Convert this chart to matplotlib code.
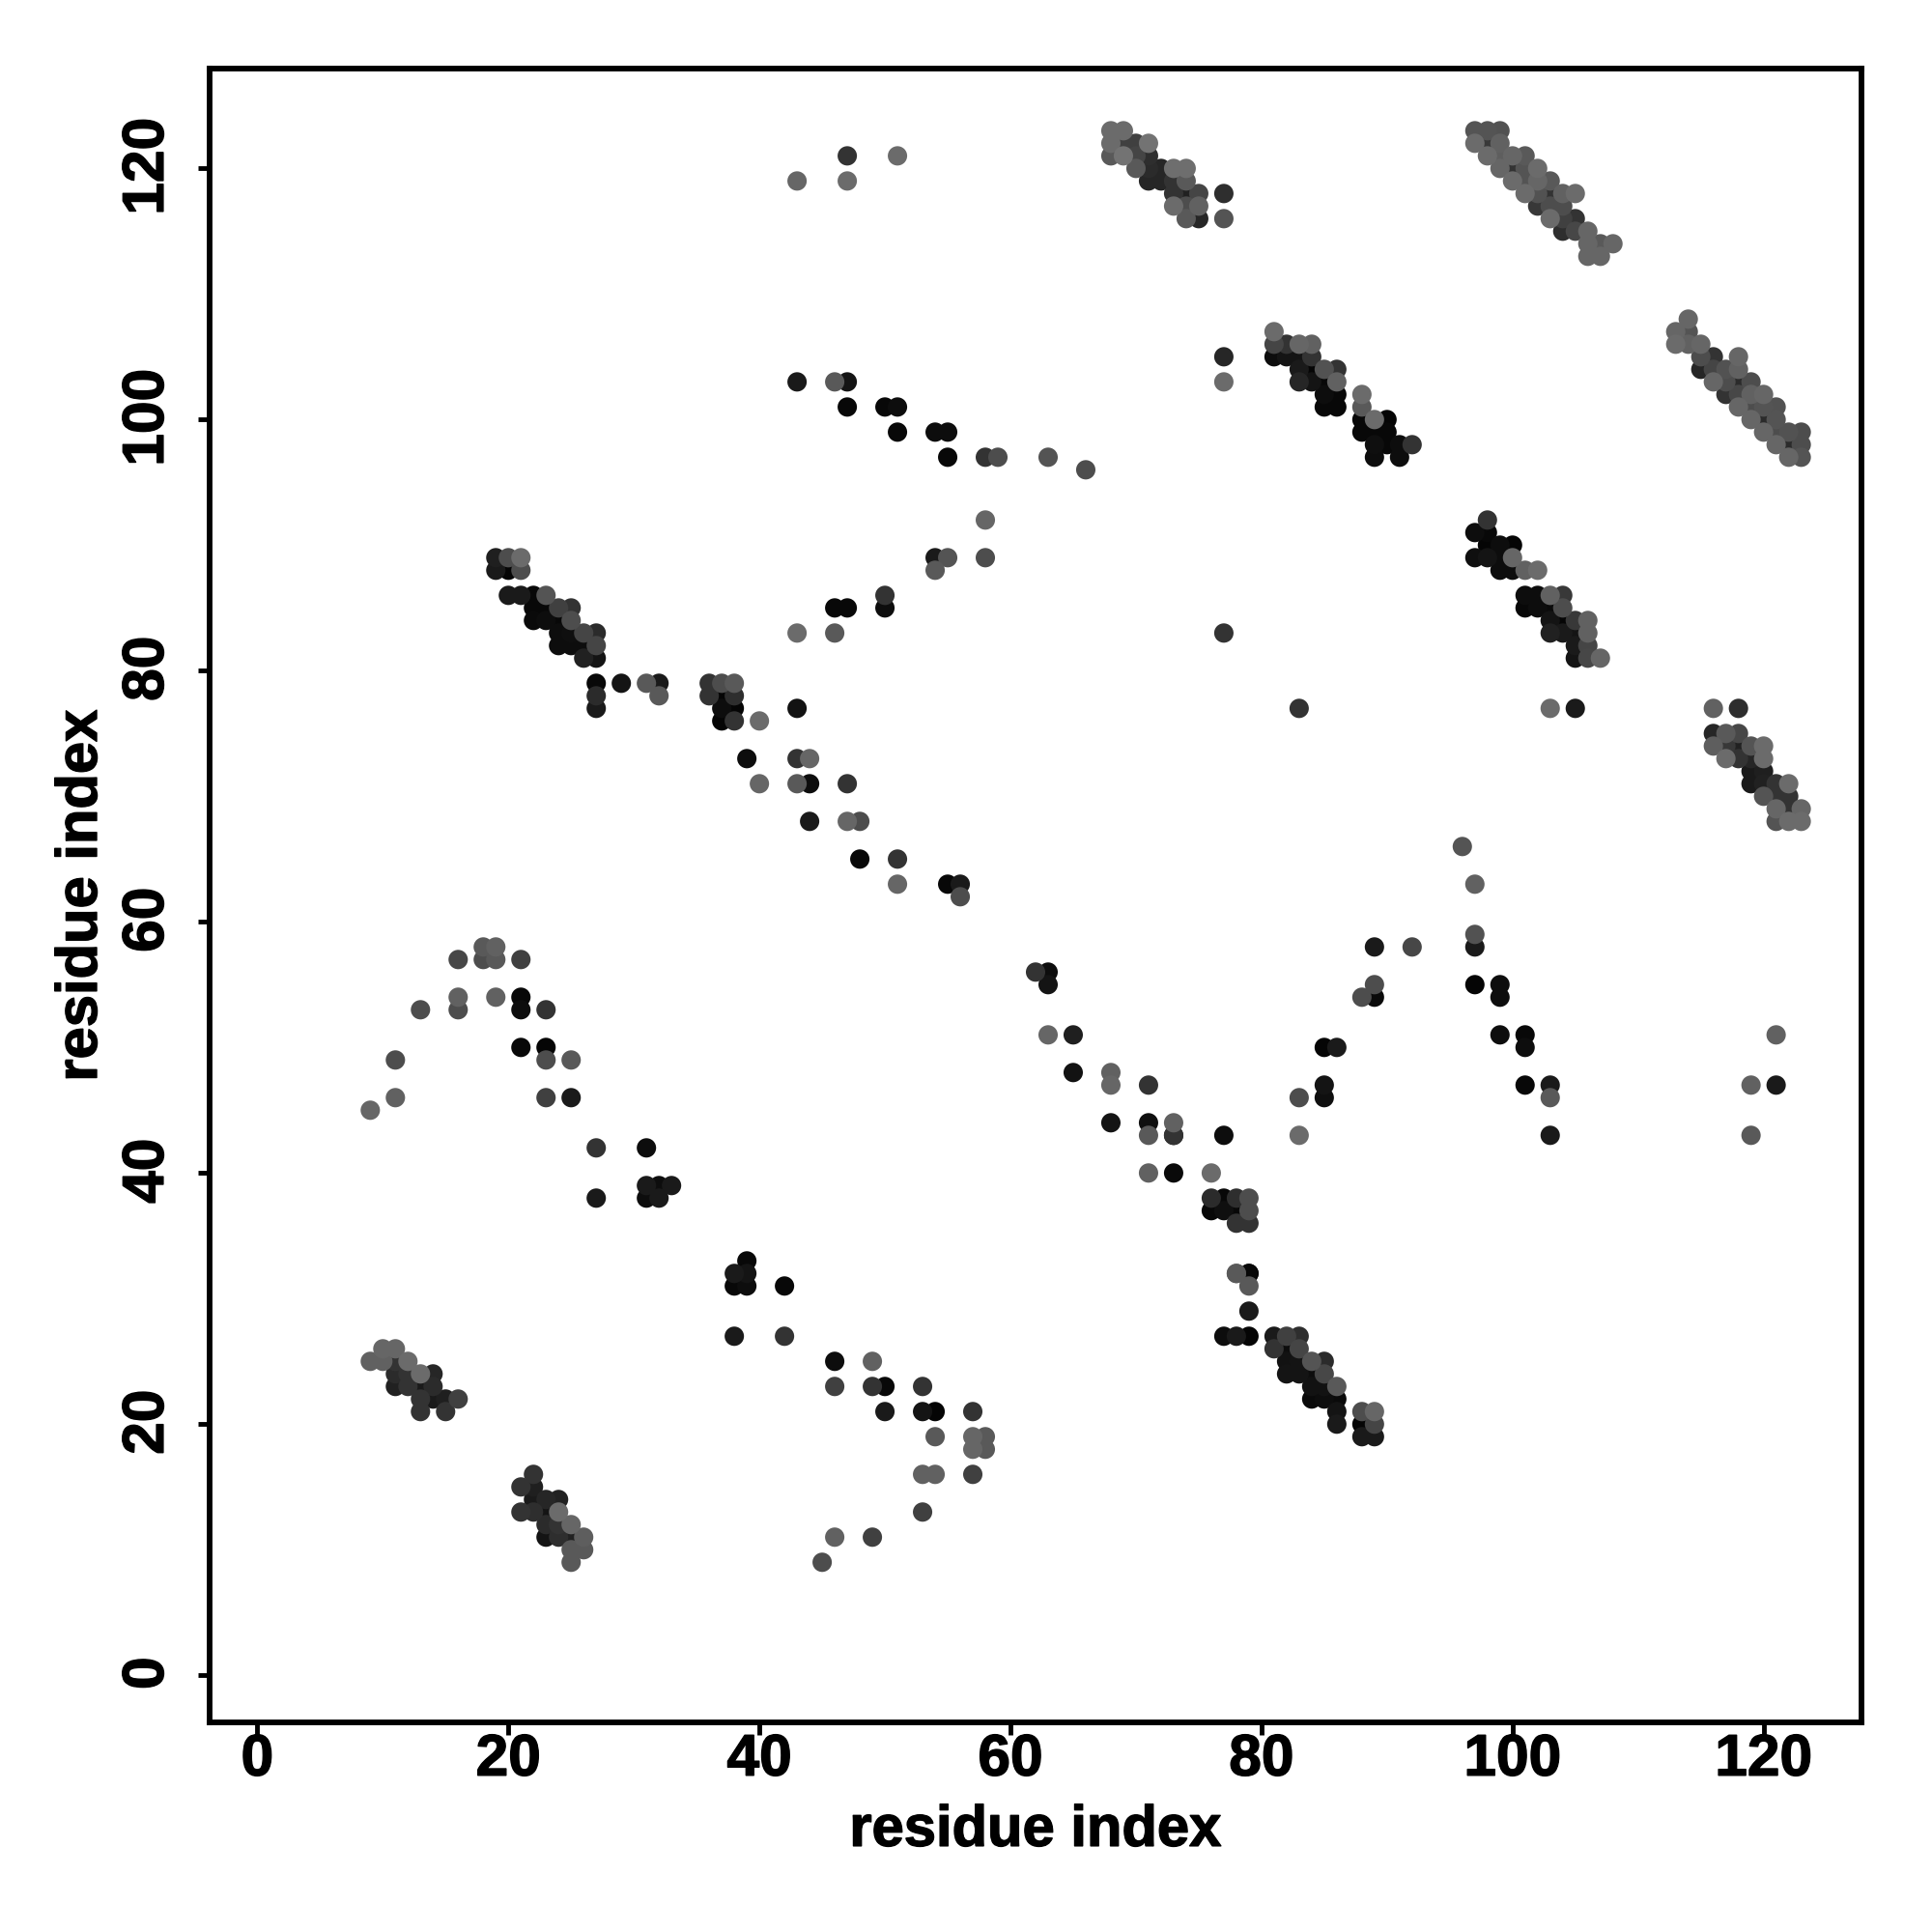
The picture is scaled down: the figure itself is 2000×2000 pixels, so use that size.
import numpy as np
import matplotlib
matplotlib.use("Agg")
import matplotlib.pyplot as plt
from matplotlib.transforms import ScaledTranslation
import matplotlib.patheffects as pe

residue_x = [
 68,69, 68,69,70,71, 68,69,70,71, 70,71,72,73,74, 71,72,73,74, 73,74,75,77, 73,74,75, 74,75,77,
 97,98,99, 97,98,99, 98,99,100,101, 99,100,101,102, 100,101,102,103, 101,102,103,104,105, 102,103,104, 103,104,105, 104,105,106, 106,107,108, 106,107,
 81, 81,82,83,84, 81,82,83,84, 83,84,85,86, 83,84,85,86, 85,86, 85,86, 88, 88, 88,89,90, 88,89,90, 89,90,91,92, 89,91,
 114, 113,114, 113,114,115, 115,116,118, 115,116,117,118, 116,117,118,119, 117,118,119,120, 118,119,120,121, 119,120,121, 120,121,122,123, 121,122,123, 122,123,
 98, 97,98, 98,99,100, 97,98,99,100, 99,100,101,102, 101,102,103,104, 101,102,103,104, 103,104,105,106, 103,104,105,106, 105,106, 105,106,107,
 116,118, 116,117,118, 116,117,118,119,120, 117,118,119,120, 119,120, 119,120,121,122, 120,121,122, 121,122,123, 121,122,123,
 19,20,21, 19,20,21, 20,21,22,23, 22,23,24,25, 22,23,24,25, 24,25,26,27, 24,25,26,27, 26,27, 27,29, 27, 27,
 76, 76,77,78,79, 76,77,78,79, 78,79, 78,79,
 79,81,82,83, 81,82,83, 82,83,84,85, 82,83,84,85, 84,85,86, 84,85,86, 86,88,89, 86,88,89, 88,89,
 10,11, 9,10,11,12, 11,12,13,14, 11,12,13,14, 13,14,15,16, 13,15,
 22, 21,22, 22,23,24, 21,22,23,24, 23,24,25, 23,24,25,26, 25,26, 25,
 36,37,38, 36,37,38, 37,38,43, 37,38,40,
 43,47,47,51, 77,77,
 43,46,47,47,50,51,51,54,55,55,58,59,63,66,
 58,54,55,58,54,50,50,46,47,43,46,77,83,103,105,
 31,32,32, 43,44,39,40,43,44,47,44,47,48,48,51,51,55,56,56,
 9,11,11,13,16,16,16,18,19,18,19,21,19,21,21,23,21,23,23,25,23,25,27,27,31,31,32,33,31,32,
 38,39,39,38,39,42,38,42,
 46,49,46,49,50,53,50,53,54,57,54,57,58,57,58,53,54,57,53,46,49,45,
 62,63,63,63,65,65,68,68,71,68,71,73,71,73,71,73,73,77,
 96,97,97,97,89,92,97,99,99,89,88,89,99,101,101,85,86,101,103,103,85,85,83,83,103,119,121,119,121,
 78,79,79,79,77,78,
]
residue_y = [
 123,123, 122,122,122,122, 121,121,121,121, 120,120,120,120,120, 119,119,119,119, 118,118,118,118, 117,117,117, 116,116,116,
 123,123,123, 122,122,122, 121,121,121,121, 120,120,120,120, 119,119,119,119, 118,118,118,118,118, 117,117,117, 116,116,116, 115,115,115, 114,114,114, 113,113,
 107, 106,106,106,106, 105,105,105,105, 104,104,104,104, 103,103,103,103, 102,102, 101,101, 102, 101, 100,100,100, 99,99,99, 98,98,98,98, 97,97,
 108, 107,107, 106,106,106, 105,105,105, 104,104,104,104, 103,103,103,103, 102,102,102,102, 101,101,101,101, 100,100,100, 99,99,99,99, 98,98,98, 97,97,
 92, 91,91, 90,90,90, 89,89,89,89, 88,88,88,88, 86,86,86,86, 85,85,85,85, 84,84,84,84, 83,83,83,83, 82,82, 81,81,81,
 77,77, 75,75,75, 74,74,74,74,74, 73,73,73,73, 72,72, 71,71,71,71, 70,70,70, 69,69,69, 68,68,68,
 89,89,89, 88,88,88, 86,86,86,86, 85,85,85,85, 84,84,84,84, 83,83,83,83, 82,82,82,82, 81,81, 79,79, 78, 77,
 40, 38,38,38,38, 37,37,37,37, 36,36, 32,32,
 27,27,27,27, 26,26,26, 25,25,25,25, 24,24,24,24, 23,23,23, 22,22,22, 21,21,21, 20,20,20, 19,19,
 26,26, 25,25,25,25, 24,24,24,24, 23,23,23,23, 22,22,22,22, 21,21,
 16, 15,15, 14,14,14, 13,13,13,13, 12,12,12, 11,11,11,11, 10,10, 9,
 79,79,79, 78,78,78, 77,77,77, 76,76,76,
 119,121,119,121, 105,103,
 103,103,103,101,101,101,99,99,99,97,97,97,97,96,
 92,89,89,89,88,86,85,85,85,83,83,83,77,77,77,
 79,79,78, 73,73,73,71,71,71,71,68,68,68,65,65,63,63,63,62,
 45,49,46,53,57,54,53,58,58,57,57,57,54,54,53,53,50,50,49,49,46,46,42,38,42,39,39,39,38,38,
 32,32,33,31,31,31,27,27,
 25,25,23,23,23,23,21,21,21,21,19,19,19,18,18,16,16,16,13,11,11,9,
 56,56,55,51,51,48,48,47,47,44,44,44,43,43,40,40,43,43,
 66,63,59,58,58,58,55,55,54,55,54,54,51,51,50,50,50,47,47,46,47,46,46,43,43,47,47,43,51,
 32,32,31,29,27,27,
]
grey = [
 .42,.42, .42,.25,.25,.45, .35,.45,.27,.18, .35,.17,.15,.43,.43, .15,.15,.20,.35, .20,.13,.27,.18, .42,.30,.38, .35,.15,.33,
 .33,.33,.32, .42,.22,.38, .42,.37,.40,.35, .40,.20,.33,.42, .42,.33,.40,.35, .42,.32,.20,.38,.42, .22,.30,.30, .42,.25,.20, .18,.28,.40, .40,.35,.40, .40,.40,
 .42, .27,.20,.40,.38, .05,.08,.08,.20, .10,.02,.32,.20, .15,.08,.03,.38, .05,.03, .03,.03, .42, .35, .03,.42,.02, .03,.03,.03, .06,.03,.05,.20, .05,.05,
 .40, .40,.33, .42,.38,.40, .30,.20,.40, .15,.27,.32,.38, .40,.30,.17,.30, .20,.28,.38,.40, .40,.30,.33,.32, .40,.17,.33, .40,.30,.32,.30, .40,.17,.30, .40,.33,
 .20, .05,.03, .02,.05,.02, .06,.08,.05,.40, .05,.05,.38,.42, .05,.05,.38,.22, .03,.05,.04,.30, .08,.02,.22,.38, .13,.10,.08,.38, .10,.27, .08,.28,.40,
 .38,.18, .15,.35,.28, .37,.22,.13,.33,.42, .42,.20,.15,.42, .10,.12, .10,.13,.20,.42, .33,.20,.20, .40,.20,.40, .33,.42,.42,
 .12,.30,.42, .10,.02,.30, .10,.10,.03,.33, .03,.03,.25,.20, .04,.05,.03,.30, .05,.06,.27,.17, .05,.05,.05,.27, .13,.08, .03,.08, .17, .10,
 .42, .17,.03,.18,.30, .03,.06,.03,.30, .20,.20, .35,.03,
 .02,.10,.25,.18, .20,.05,.27, .07,.08,.33,.17, .08,.08,.05,.28, .07,.07,.35, .04,.05,.04, .08,.30,.40, .10,.02,.27, .10,.10,
 .40,.40, .38,.38,.20,.42, .17,.20,.42,.15, .13,.20,.10,.17, .20,.10,.12,.25, .20,.20,
 .20, .20,.12, .10,.15,.13, .20,.18,.08,.42, .17,.20,.40, .08,.18,.13,.37, .35,.35, .35,
 .20,.30,.35, .20,.02,.18, .05,.02,.07, .02,.20,.42,
 .40,.20,.42,.42, .15,.42,
 .10,.35,.08,.03,.03,.05,.03,.05,.05,.03,.20,.30,.33,.30,
 .40,.10,.33,.30,.35,.20,.05,.03,.03,.42,.35,.20,.20,.42,.10,
 .35,.10,.35, .20,.40,.05,.40,.35,.05,.20,.10,.40,.30,.03,.20,.40,.03,.10,.30,
 .40,.30,.38,.30,.28,.38,.30,.35,.38,.30,.35,.25,.38,.03,.05,.20,.03,.02,.30,.35,.25,.10,.20,.10,.05,.10,.05,.10,.05,.10,
 .10,.08,.03,.03,.05,.03,.10,.20,
 .05,.38,.25,.20,.03,.20,.10,.08,.02,.20,.35,.40,.35,.40,.35,.38,.38,.25,.25,.38,.25,.30,
 .20,.05,.08,.40,.12,.07,.38,.40,.20,.08,.06,.38,.35,.20,.38,.04,.05,.05,
 .33,.38,.32,.10,.10,.28,.02,.05,.05,.30,.30,.04,.05,.03,.05,.02,.10,.03,.10,.35,.08,.06,.30,.42,.10,.38,.10,.35,.38,
 .35,.03,.35,.10,.05,.10,
]
x_ticks = [0, 20, 40, 60, 80, 100, 120]
y_ticks = [0, 20, 40, 60, 80, 100, 120]
axis_label = "residue index"

x = np.array(residue_x)
y = np.array(residue_y)
g = np.array(grey)
order = np.argsort(g, kind="stable")

plt.rcParams["font.family"] = ["Liberation Sans", "DejaVu Sans"]
plt.rcParams["font.weight"] = "bold"

fig = plt.figure(figsize=(20, 20), dpi=100)
ax = fig.add_axes([217/2000, 1 - 1783/2000, 1710/2000, 1712/2000])
ax.scatter(x[order], y[order], s=208, c=[(v, v, v) for v in g[order]],
           linewidths=0, zorder=3)
ax.set_xlim(-3.8, 127.8)
ax.set_ylim(-3.75, 127.95)
ax.set_xticks(x_ticks)
ax.set_yticks(y_ticks)
for s in ax.spines.values():
    s.set_linewidth(4.2)
ax.tick_params(axis="both", length=9, width=3.5, labelsize=43.5)
ax.tick_params(axis="x", pad=-0.5)
ax.tick_params(axis="y", pad=17)
bold_stroke = [pe.withStroke(linewidth=1.0, foreground="black")]
for t in ax.get_yticklabels():
    t.set_rotation(90)
    t.set_va("center")
    t.set_transform(t.get_transform() + ScaledTranslation(0, 1.5 / 72, fig.dpi_scale_trans))
    t.set_path_effects(bold_stroke)
for t in ax.get_xticklabels():
    t.set_path_effects(bold_stroke)
ax.set_xlabel(axis_label, fontsize=43, fontweight="bold", labelpad=13,
              path_effects=bold_stroke)
ax.set_ylabel(axis_label, fontsize=43, fontweight="bold", labelpad=10,
              path_effects=bold_stroke)
assert len(residue_x) == len(residue_y) == len(grey), (len(residue_x), len(residue_y), len(grey))
fig.savefig("out.png", dpi=100, facecolor="white")
